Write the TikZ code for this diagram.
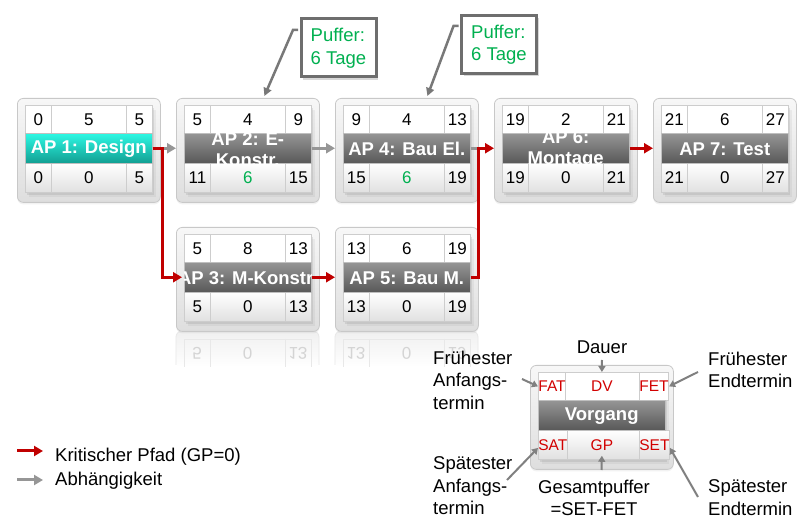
\documentclass[tikz,border=0pt]{standalone}
\usepackage{fontspec}
\setmainfont{Liberation Sans}
\usetikzlibrary{arrows.meta,calc,shadows}

\definecolor{critred}{RGB}{192,0,0}
\definecolor{deparr}{RGB}{150,150,150}
\definecolor{puffgreen}{RGB}{0,176,80}
\definecolor{keyred}{RGB}{210,0,0}
\definecolor{cellline}{RGB}{205,205,205}
\definecolor{frameline}{RGB}{200,200,200}
\definecolor{bandtop}{RGB}{150,150,150}
\definecolor{bandbot}{RGB}{88,88,88}
\definecolor{tealtop}{RGB}{45,248,228}
\definecolor{tealbot}{RGB}{18,158,146}
\definecolor{callgray}{RGB}{120,120,120}
\definecolor{puffframe}{RGB}{110,110,110}
\definecolor{keygray}{RGB}{128,128,128}
\definecolor{reflline}{RGB}{232,232,232}
\definecolor{refltext}{RGB}{212,212,212}

\newcommand\apnum{\fontsize{17}{20}\selectfont}
\newcommand\apband{\bfseries\fontsize{18.5}{21}\selectfont}
\newcommand\aplbl{\fontsize{18.5}{22.5}\selectfont}
\newcommand\apkey{\fontsize{15.5}{18}\selectfont\color{keyred}}

\tikzset{
  apframe/.style={draw=frameline, line width=0.8pt, rounded corners=6pt,
    top color=white!97!black, bottom color=white!87!black,
    minimum width=143pt, minimum height=104pt, inner sep=0pt, anchor=north west,
    drop shadow={shadow xshift=0pt, shadow yshift=-2pt, opacity=0.10}},
  aptable/.style={fill=white, minimum width=127pt, minimum height=87pt,
    inner sep=0pt, anchor=north west,
    drop shadow={shadow xshift=4pt, shadow yshift=-5pt, opacity=0.10},
    drop shadow={shadow xshift=2pt, shadow yshift=-3pt, opacity=0.18}},
  celltop/.style={draw=cellline, line width=0.8pt, fill=white, minimum height=28pt,
    inner sep=0pt, anchor=north west, font=\apnum},
  cellbot/.style={draw=cellline, line width=0.8pt, top color=white,
    bottom color=white!88!black, minimum height=29pt, inner sep=0pt,
    anchor=north west, font=\apnum},
  grayband/.style={top color=bandtop, bottom color=bandbot, draw=white!75!black,
    line width=0.5pt, minimum width=127pt, minimum height=30pt, inner sep=0pt,
    anchor=north west},
  tealband/.style={grayband, top color=tealtop, bottom color=tealbot},
  bandtext/.style={text=white, font=\apband, align=center, inner sep=0pt},
  critarrow/.style={draw=critred, line width=3pt, -{Triangle[length=9pt,width=10pt]}},
  deparrow/.style={draw=deparr, line width=3pt, -{Triangle[length=9pt,width=10pt]}},
  calloutline/.style={draw=callgray, line width=2.5pt, -{Triangle[length=8pt,width=8pt]}},
  keyarrow/.style={draw=keygray, line width=2pt, -{Triangle[length=6pt,width=7pt]}},
  puffbox/.style={draw=puffframe, line width=3pt, fill=white, minimum width=75pt,
    minimum height=58pt, align=left, text=puffgreen, font=\aplbl, inner sep=0pt,
    drop shadow={shadow xshift=2pt, shadow yshift=-3pt, opacity=0.3}},
  lbl/.style={font=\aplbl, inner sep=0pt, align=left},
  refltxt/.style={text=refltext, font=\apnum, inner sep=0pt, transform shape}
}

% #1 name, #2 band style, #3 FAT, #4 DV, #5 FET, #6 label, #7 SAT, #8 GP, #9 SET
\newcommand{\apbox}[9]{%
  \node[apframe] (#1f) at (0,0) {};
  \node[aptable] (#1t) at (8,7) {};
  \node[celltop, minimum width=75pt] (#1dv) at (34,7) {#4};
  \node[celltop, minimum width=26pt] (#1fat) at (8,7) {#3};
  \node[celltop, minimum width=26pt] (#1fet) at (109,7) {#5};
  \node[cellbot, minimum width=75pt] (#1gp) at (34,65) {#8};
  \node[cellbot, minimum width=26pt] (#1sat) at (8,65) {#7};
  \node[cellbot, minimum width=26pt] (#1set) at (109,65) {#9};
  \node[#2] (#1) at (8,35) {};
  \begin{scope}
    \clip (#1.south west) rectangle (#1.north east);
    \node[bandtext] (#1txt) at ([yshift=-1pt]#1.center) {#6};
  \end{scope}
}

% reflection: #1 name, #2 x, #3 a, #4 b, #5 c
\newcommand{\apreflect}[5]{%
  \begin{scope}[shift={(#2,331)}]
    \shade[top color=white!94!black, bottom color=white, rounded corners=6pt]
      (0,36) -- (0,0) -- (143,0) -- (143,36) -- cycle;
    \draw[reflline, line width=0.8pt, rounded corners=6pt] (0,34) -- (0,0) -- (143,0) -- (143,34);
    \draw[reflline, line width=0.8pt] (8,36) -- (8,8) -- (135,8) -- (135,36)
      (34,8) -- (34,36) (109,8) -- (109,36);
    \begin{scope}[shift={(21,22)}, yscale=-1]\node[refltxt] (#1a) at (0,0) {#3};\end{scope}
    \begin{scope}[shift={(71.5,22)}, yscale=-1]\node[refltxt] (#1b) at (0,0) {#4};\end{scope}
    \begin{scope}[shift={(122,22)}, yscale=-1]\node[refltxt] (#1c) at (0,0) {#5};\end{scope}
  \end{scope}
}

\begin{document}
\begin{tikzpicture}[x=1pt, y=-1pt]
  \fill[white] (0,0) rectangle (807,521);
  \useasboundingbox (0,0) rectangle (807,521);

  % reflections under the second row
  \apreflect{rfa}{176}{5}{0}{13}
  \apreflect{rfb}{335}{13}{0}{19}

  % work packages
  \begin{scope}[shift={(17,98)}]\apbox{ap1}{tealband}{0}{5}{5}{AP 1: Design}{0}{0}{5}\end{scope}
  \begin{scope}[shift={(176,98)}]\apbox{ap2}{grayband}{5}{4}{9}{AP 2: E-\\Konstr.}{11}{\textcolor{puffgreen}{6}}{15}\end{scope}
  \begin{scope}[shift={(335,98)}]\apbox{ap4}{grayband}{9}{4}{13}{AP 4: Bau El.}{15}{\textcolor{puffgreen}{6}}{19}\end{scope}
  \begin{scope}[shift={(494,98)}]\apbox{ap6}{grayband}{19}{2}{21}{AP 6:\\Montage}{19}{0}{21}\end{scope}
  \begin{scope}[shift={(653,98)}]\apbox{ap7}{grayband}{21}{6}{27}{AP 7: Test}{21}{0}{27}\end{scope}
  \begin{scope}[shift={(176,227)}]\apbox{ap3}{grayband}{5}{8}{13}{AP 3: M-Konstr.}{5}{0}{13}\end{scope}
  \begin{scope}[shift={(335,227)}]\apbox{ap5}{grayband}{13}{6}{19}{AP 5: Bau M.}{13}{0}{19}\end{scope}

  % dependencies
  \draw[deparrow] (ap1.east) -- (ap2f.west |- ap1.east);
  \draw[deparrow] (ap2.east) -- (ap4f.west |- ap2.east);
  \draw[draw=deparr, line width=3pt] (ap4.east) -- ++(10,0);
  % critical path
  \draw[critarrow] (ap1.east) -- ++(10,0) |- ([xshift=-2pt]ap3.west);
  \draw[critarrow] (ap3.east) -- (ap5f.west |- ap3.east);
  \draw[critarrow] (ap5.east) -- ++(8,0) |- (ap6f.west |- ap6.west);
  \draw[critarrow] (ap6.east) -- (ap7f.west |- ap6.east);

  % buffer callouts
  \node[puffbox] (pf1) at (338.5,48) {Puffer:\\6 Tage};
  \node[puffbox] (pf2) at (499,44.5) {Puffer:\\6 Tage};
  \draw[calloutline] ([xshift=-1.5pt]pf1.west |- 0,30) -- ++(-5,0) -- ([xshift=16.5pt,yshift=2pt]ap2f.north);
  \draw[calloutline] ([xshift=-1.5pt]pf2.west |- 0,26) -- ++(-5,0) -- ([xshift=20.5pt,yshift=2pt]ap4f.north);

  % legend
  \coordinate (lg1s) at (17,451);
  \coordinate (lg1e) at (43,451);
  \coordinate (lg2s) at (17,480);
  \coordinate (lg2e) at (43,480);
  \draw[critarrow] (lg1s) -- (lg1e);
  \draw[deparrow] (lg2s) -- (lg2e);
  \node[lbl, anchor=base west] (lgt1) at (55,462) {Kritischer Pfad (GP=0)};
  \node[lbl, anchor=base west] (lgt2) at (55,486) {Abhängigkeit};

  % key box
  \begin{scope}[shift={(530,365)}]\apbox{key}{grayband}{\apkey FAT}{\apkey DV}{\apkey FET}{Vorgang}{\apkey SAT}{\apkey GP}{\apkey SET}\end{scope}

  \node[lbl] (kdauer) at (602,347) {Dauer};
  \node[lbl, anchor=north west] (kfa) at (433,350.5) {Frühester\\Anfangs-\\termin};
  \node[lbl, anchor=north west] (kfe) at (708,351.5) {Frühester\\Endtermin};
  \node[lbl, anchor=north west] (ksa) at (433,456.5) {Spätester\\Anfangs-\\termin};
  \node[lbl, anchor=north west] (kse) at (708,479.5) {Spätester\\Endtermin};
  \node[lbl, anchor=north, align=center] (kgp) at (594,479.5) {Gesamtpuffer\\=SET-FET};

  \coordinate (kdauer0) at (602,360);
  \coordinate (kfa0) at (522,379);
  \coordinate (kfe0) at (698,372);
  \coordinate (ksa0) at (507,480);
  \coordinate (kgp0) at (601.5,470);
  \coordinate (kse0) at (698,497);
  \draw[keyarrow] (kdauer0) -- (keydv.north);
  \draw[keyarrow] (kfa0) -- (keyfat.west);
  \draw[keyarrow] (kfe0) -- (keyfet.east);
  \draw[keyarrow] (ksa0) -- ([yshift=-3pt]keysat.west);
  \draw[keyarrow] (kgp0) -- ([yshift=4pt]keygp.south);
  \draw[keyarrow] (kse0) -- ([yshift=-3pt]keyset.east);
\end{tikzpicture}
\end{document}
